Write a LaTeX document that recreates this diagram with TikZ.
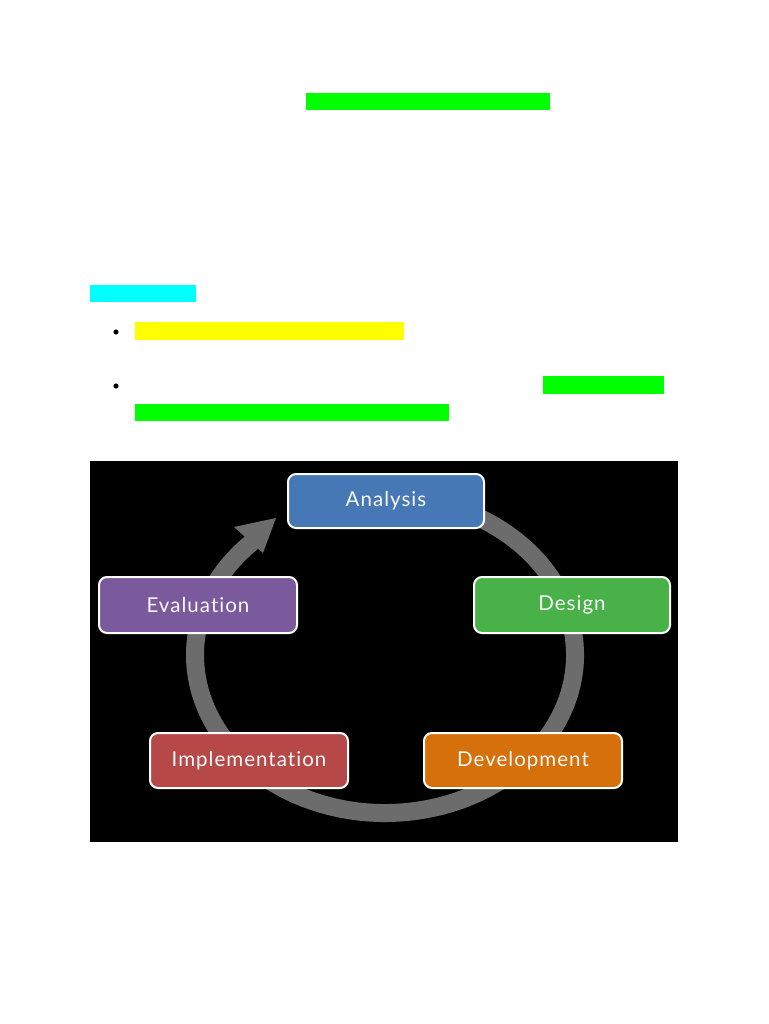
\documentclass[tikz,border=0pt]{standalone}
\usepackage{fontspec}
\newfontfamily\boxfont[LetterSpace=5,Ligatures=NoCommon]{Lato}
\begin{document}
\begin{tikzpicture}[x=1pt,y=-1pt,
  hl/.style={fill=#1,draw=none},
  stage/.style={draw=white,line width=2pt,rounded corners=8pt,fill=#1,
    minimum width=196pt,minimum height=55pt,inner sep=0pt,
    text=white!95!gray,font=\boxfont\fontsize{20.5}{24}\selectfont},
  ring/.style={draw=ringgray,line width=18pt}]
\definecolor{hlgreen}{RGB}{0,255,0}
\definecolor{hlcyan}{RGB}{0,255,255}
\definecolor{hlyellow}{RGB}{255,255,0}
\definecolor{ringgray}{RGB}{108,108,108}
\definecolor{cblue}{RGB}{70,120,182}
\definecolor{cpurple}{RGB}{122,90,156}
\definecolor{cgreen}{RGB}{72,178,72}
\definecolor{cred}{RGB}{183,72,72}
\definecolor{corange}{RGB}{214,112,10}
\useasboundingbox[fill=white] (0,0) rectangle (768,1024);
% highlighted text bars
\fill[hl=hlgreen] (306,93) rectangle (550,110);
\fill[hl=hlcyan] (90,285) rectangle (196,302);
\fill[black] (116,332) circle[radius=2.6];
\fill[hl=hlyellow] (135,322) rectangle (404,340);
\fill[black] (116,386) circle[radius=2.6];
\fill[hl=hlgreen] (543,376) rectangle (664,394);
\fill[hl=hlgreen] (135,404) rectangle (449,421);
% black picture
\fill[black] (90,461) rectangle (678,842);
% cycle ring
\coordinate (ctr) at (385,655);
\draw[ring] ([shift={(-100:190 and 158)}]ctr) arc[start angle=-100,end angle=228,x radius=190,y radius=158];
\fill[ringgray] (276,518) -- (234,527) -- (263,553) -- cycle;
% stages
\node[stage=cblue,minimum width=196pt,minimum height=54pt] (analysis) at (386,501) {Analysis};
\node[stage=cpurple,minimum width=198pt,minimum height=56pt] (evaluation) at (198,605) {Evaluation};
\node[stage=cgreen,minimum width=196pt,minimum height=56pt] (design) at (572,605) {Design};
\node[stage=cred,minimum width=198pt] (implementation) at (249,760.5) {Implementation};
\node[stage=corange,minimum width=198pt] (development) at (523,760.5) {Development};
\end{tikzpicture}
\end{document}
